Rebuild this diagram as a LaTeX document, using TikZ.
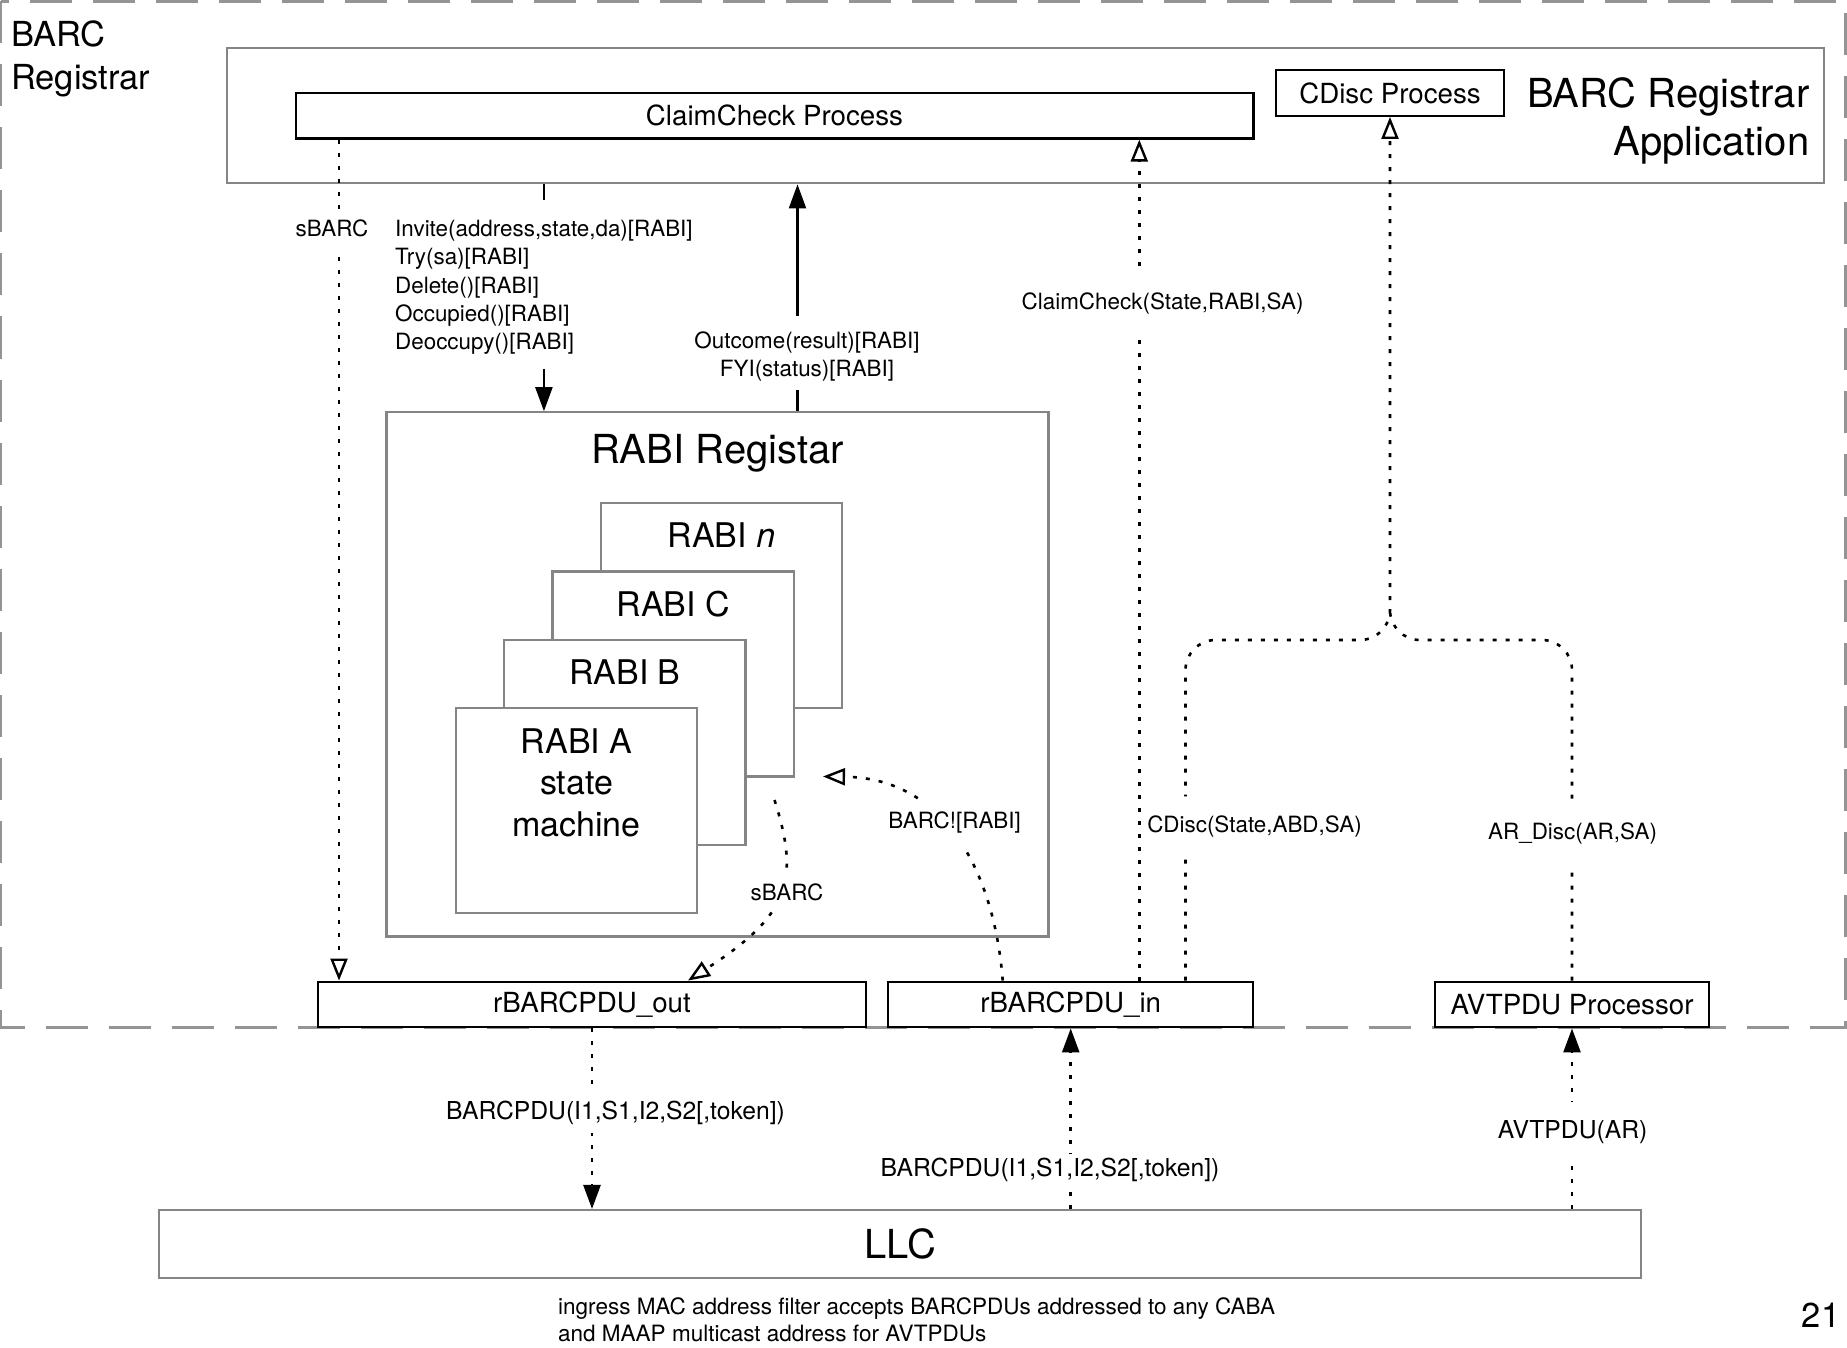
\documentclass[tikz,border=0pt]{standalone}
\usepackage{fontspec}
\setmainfont{TeX Gyre Heros}
\usetikzlibrary{arrows.meta}

\newcommand{\lblfont}{\fontsize{22.4}{28.3}\selectfont}
\newcommand{\lowfont}{\fontsize{24.7}{30}\selectfont}
\newcommand{\boxfont}{\fontsize{27.7}{33}\selectfont}
\newcommand{\bigfont}{\fontsize{40}{48.3}\selectfont}
\newcommand{\rabifont}{\fontsize{34}{41.3}\selectfont}

\begin{document}
\begin{tikzpicture}[x=1pt,y=-1pt,
  proc/.style={draw,line width=2.4pt,fill=white,minimum height=45.5,inner sep=0pt,font=\boxfont},
  grp/.style={draw=black!48,line width=2.2pt,inner sep=0pt},
  rabi/.style={grp,fill=white,minimum width=\W,minimum height=\H},
  lbl/.style={font=\lblfont,fill=white,inner xsep=2pt,inner ysep=#1},
  lbl/.default=12pt,
  lowlbl/.style={lbl=#1,font=\lowfont},
  dots/.style={line width=2.6pt,dash pattern=on 4pt off 9pt},
  opentip/.style={-{Triangle[fill=white,length=22pt,width=17pt,line width=2.4pt]}},
  filltip/.style={-{Triangle[length=24pt,width=17pt]}}]
\pgfmathsetmacro{\W}{241.3}
\pgfmathsetmacro{\H}{205}
\pgfmathsetmacro{\DX}{48.3}
\pgfmathsetmacro{\DY}{68.3}

\useasboundingbox (0,0) rectangle (1847,1348);

% registrar frame
\draw[black!42,line width=2.7pt,dash pattern=on 42pt off 21pt] (0.5,1.5) rectangle (1845.5,1027.3);
\node[anchor=north west,align=left,font=\fontsize{34.5}{42.6}\selectfont,inner sep=0pt] (reg) at (11,21) {BARC\\Registrar};

% application
\node[grp,minimum width=1596.7,minimum height=135.6] (app) at (1025.7,115.5) {};
\node[proc,minimum width=957.6] (cc) at (774.5,115.7) {ClaimCheck Process};
\node[proc,minimum width=228.5] (cdisc) at (1390,93) {CDisc Process};
\node[anchor=north east,align=right,font=\bigfont,inner sep=0pt] (appl) at (1809.5,77) {BARC Registrar\\Application};

% RABI registar
\node[grp,minimum width=662,minimum height=524.2] (rabireg) at (717.4,674.4) {};
\node[font=\bigfont,anchor=base] (rrt) at (717.4,463.2) {RABI Registar};

\foreach \k/\nm/\txt in {3/rn/{RABI \textit{n}},2/rc/{RABI C},1/rb/{RABI B}} {
\node[rabi] (\nm) at ({576.55+\k*\DX},{810.5-\k*\DY}) {};
\node[font=\rabifont] (\nm-t) at ([yshift=-33.5pt]\nm.north) {\txt};
}
\node[rabi] (ra) at (576.55,810.5) {};
\node[font=\rabifont,align=center,anchor=north,inner sep=0pt] (ra-t) at ([yshift=-21.8pt]ra.north) {RABI A\\state\\machine};

% PDU boxes
\node[proc,minimum width=547.5] (rout) at (592,1004.5) {rBARCPDU\_out};
\node[proc,minimum width=365.1] (rin) at (1070.7,1004.5) {rBARCPDU\_in};
\node[proc,minimum width=274.5] (avtp) at (1572,1004.5) {AVTPDU Processor};
\node[grp,minimum width=1481.8,minimum height=68.3,font=\bigfont] (llc) at (900,1244.2) {LLC};

\coordinate (sbx) at (339,0);
\coordinate (outx) at (797.5,0);
\coordinate (ccx) at (1139.3,0);
\coordinate (cdx) at (1185.5,0);
\coordinate (cdj) at (1390,640);
\coordinate (sbs) at (774.5,800);
\coordinate (bkt) at (823,776.5);

% primitives between app and RABI registar
\draw[dots,opentip] (cc.south -| sbx) -- (rout.north -| sbx)
  node[lbl=11pt] (sbl) at (332,228.5) {sBARC};

\node[font=\lblfont,align=left,anchor=north west,inner sep=0pt] (inv) at (395,220)
  {Invite(address,state,da)[RABI]\\Try(sa)[RABI]\\Delete()[RABI]\\Occupied()[RABI]\\Deoccupy()[RABI]};
\draw[line width=2.2pt] (app.south -| inv.north) -- ++(0,16);
\draw[line width=2.2pt,filltip] (inv.south) ++(0,14) -- (rabireg.north -| inv.south);

\node[font=\lblfont,align=center] (outl) at (807,356.5) {Outcome(result)[RABI]\\FYI(status)[RABI]};
\draw[line width=2.2pt,filltip] (outl.north -| outx) ++(0,-12) -- (app.south -| outx);
\draw[line width=2.2pt] (rabireg.north -| outx) -- ++(0,-21);

% claim check and discovery
\draw[dots,opentip] (rin.north -| ccx) -- (cc.south -| ccx)
  node[lbl=20pt] (ccl) at (1162.6,304) {ClaimCheck(State,RABI,SA)};
\draw[dots,opentip,rounded corners=30pt] (rin.north -| cdx) |- (cdj) -- (cdisc.south)
  node[lbl=20pt,anchor=west] (cdl) at (1144,827) {CDisc(State,ABD,SA)};
\draw[dots,rounded corners=30pt] (avtp.north) |- (cdj) -- ++(0,-30)
  node[lbl=21pt] (arl) at (1572.6,834) {AR\_Disc(AR,SA)};

% inside the registar
\draw[dots,opentip] (sbs) .. controls (800,880) and (790,915) .. ([xshift=96pt]rout.north)
  node[lbl=9pt] (sbl2) at (787,892.5) {sBARC};
\draw[dots,opentip] ([xshift=-68pt]rin.north) .. controls (995,880) and (950,778) .. (bkt)
  node[lbl=12pt] (bkl) at (954.6,823) {BARC![RABI]};

% to and from LLC
\draw[dots,filltip] (rout.south) -- (rout.south |- llc.north)
  node[lowlbl=8pt] (pdl1) at (615.5,1113) {BARCPDU(I1,S1,I2,S2[,token])};
\draw[dots,filltip] (llc.north -| rin.south) -- (rin.south)
  node[lowlbl=4pt] (pdl2) at (1050,1169.5) {BARCPDU(I1,S1,I2,S2[,token])};
\draw[dots,filltip] (llc.north -| avtp.south) -- (avtp.south)
  node[lowlbl=18pt] (avl) at (1572.6,1131.7) {AVTPDU(AR)};

\node[font=\fontsize{22.5}{27.3}\selectfont,align=left,anchor=west,inner sep=0pt] (note) at (558,1320)
  {ingress MAC address filter accepts BARCPDUs addressed to any CABA\\and MAAP multicast address for AVTPDUs};
\node[font=\fontsize{34.5}{40}\selectfont] (pg) at (1821,1315.5) {21};
\end{tikzpicture}
\end{document}
